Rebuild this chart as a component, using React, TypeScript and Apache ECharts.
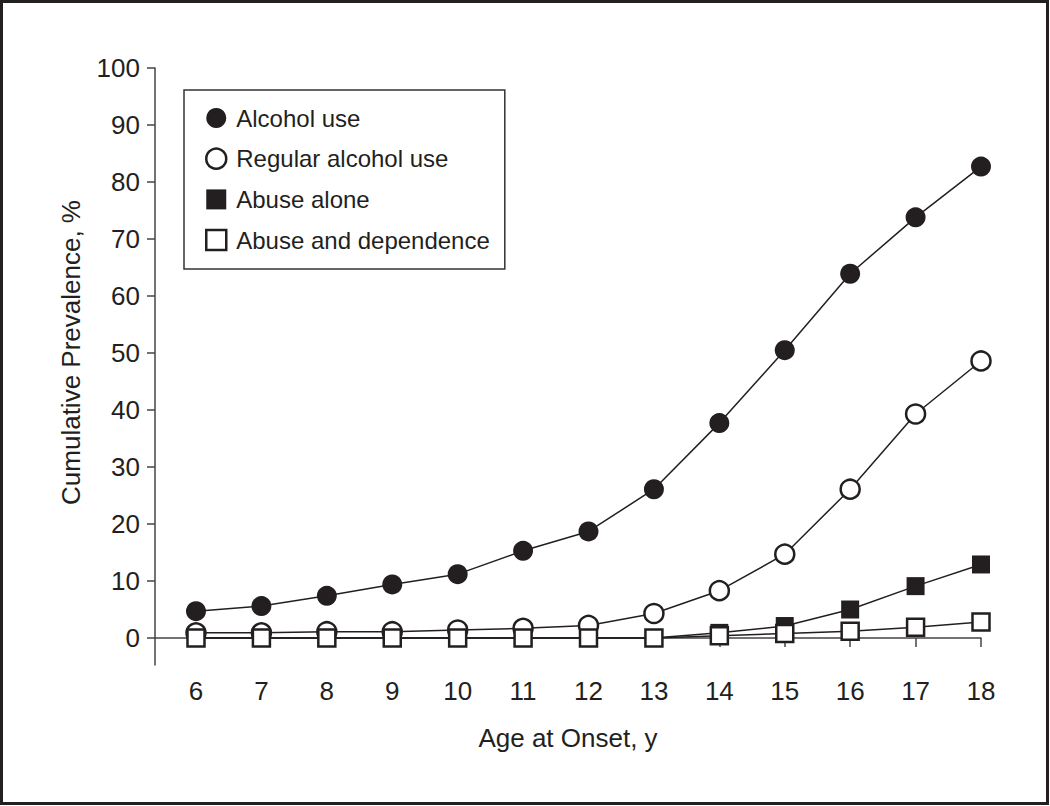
import React, { useEffect, useRef } from "react";
import * as echarts from "echarts";

const ages = [6, 7, 8, 9, 10, 11, 12, 13, 14, 15, 16, 17, 18];
const alcoholUse = [4.7, 5.6, 7.4, 9.4, 11.2, 15.3, 18.7, 26.1, 37.7, 50.5, 63.9, 73.8, 82.7];
const regularUse = [0.9, 0.9, 1.1, 1.1, 1.4, 1.7, 2.2, 4.3, 8.3, 14.7, 26.1, 39.3, 48.6];
const abuseAlone = [0, 0, 0, 0, 0, 0, 0, 0, 0.9, 2.1, 5.0, 9.1, 12.9];
const abuseDependence = [0, 0, 0, 0, 0, 0, 0, 0, 0.4, 0.8, 1.2, 1.9, 2.8];
const xTicks = [6, 7, 8, 9, 10, 11, 12, 13, 14, 15, 16, 17, 18];
const yTicks = [0, 10, 20, 30, 40, 50, 60, 70, 80, 90, 100];
const seriesNames = ["Alcohol use", "Regular alcohol use", "Abuse alone", "Abuse and dependence"];

const INK = "#231f20";
const FONT = '"Liberation Sans", Arial, sans-serif';

export default function App() {
  const ref = useRef<HTMLDivElement>(null);
  useEffect(() => {
    const chart = echarts.init(ref.current!, undefined, { renderer: "svg" });
    const pair = (vals: number[]) => ages.map((a, i) => [a, vals[i]]);
    const filled = { color: INK, borderColor: INK, borderWidth: 0 };
    const open = { color: "#ffffff", borderColor: INK, borderWidth: 2.5 };
    const mk = (name: string, vals: number[], symbol: string, size: number, style: any) => ({
      name,
      type: "line",
      data: pair(vals),
      symbol,
      symbolSize: size,
      showAllSymbol: true,
      itemStyle: style,
      lineStyle: { color: INK, width: 1.5 },
      emphasis: { disabled: true },
    });
    chart.setOption({
      animation: false,
      backgroundColor: "#ffffff",
      textStyle: { fontFamily: FONT, color: INK },
      grid: { left: 155, top: 68, right: 69, bottom: 141, containLabel: false },
      graphic: [
        {
          type: "rect",
          shape: { x: 1.5, y: 1.5, width: 1046, height: 802 },
          style: { fill: "none", stroke: INK, lineWidth: 3 },
          silent: true,
        },
      ],
      legend: {
        orient: "vertical",
        left: 184,
        top: 90,
        padding: [16, 15, 17, 21],
        itemGap: 16.7,
        itemWidth: 20,
        itemHeight: 20,
        borderColor: "#333",
        borderWidth: 1.5,
        borderRadius: 0,
        backgroundColor: "#fff",
        textStyle: { fontFamily: FONT, fontSize: 24, color: INK, lineHeight: 24, padding: [0, 0, 0, 5] },
        data: [
          { name: seriesNames[0], icon: "circle", itemStyle: filled },
          { name: seriesNames[1], icon: "circle", itemStyle: { color: "#fff", borderColor: INK, borderWidth: 2.5 } },
          { name: seriesNames[2], icon: "rect", itemStyle: filled },
          { name: seriesNames[3], icon: "rect", itemStyle: { color: "#fff", borderColor: INK, borderWidth: 2.5 } },
        ],
      },
      xAxis: {
        type: "value",
        min: 5.3733,
        max: 18,
        name: "Age at Onset, y",
        nameLocation: "middle",
        nameGap: 60,
        nameTextStyle: { fontFamily: FONT, fontSize: 26, color: INK },
        axisLine: { show: true, lineStyle: { color: "#444", width: 1.5 } },
        axisTick: { show: true, customValues: xTicks, length: 9, lineStyle: { color: "#444", width: 1.5 } },
        axisLabel: { customValues: xTicks, margin: 13, fontSize: 26, color: INK, fontFamily: FONT },
        splitLine: { show: false },
      },
      yAxis: {
        type: "value",
        min: -4.737,
        max: 100,
        name: "Cumulative Prevalence, %",
        nameLocation: "middle",
        nameGap: 71,
        nameRotate: 90,
        nameTextStyle: { fontFamily: FONT, fontSize: 26, color: INK, padding: [0, 0, 0, 28] },
        axisLine: { show: true, lineStyle: { color: "#444", width: 1.5 } },
        axisTick: { show: true, customValues: yTicks, length: 8, lineStyle: { color: "#444", width: 1.5 } },
        axisLabel: { customValues: yTicks, margin: 15, fontSize: 26, color: INK, fontFamily: FONT },
        splitLine: { show: false },
      },
      series: [
        mk(seriesNames[0], alcoholUse, "circle", 20, filled),
        mk(seriesNames[1], regularUse, "circle", 19, open),
        mk(seriesNames[2], abuseAlone, "rect", 18, filled),
        mk(seriesNames[3], abuseDependence, "rect", 17, open),
      ],
    });
    return () => chart.dispose();
  }, []);
  return (
    <div
      ref={ref}
      style={{ position: "absolute", left: 0, top: 0, width: 1050, height: 806, background: "#fff" }}
    />
  );
}
